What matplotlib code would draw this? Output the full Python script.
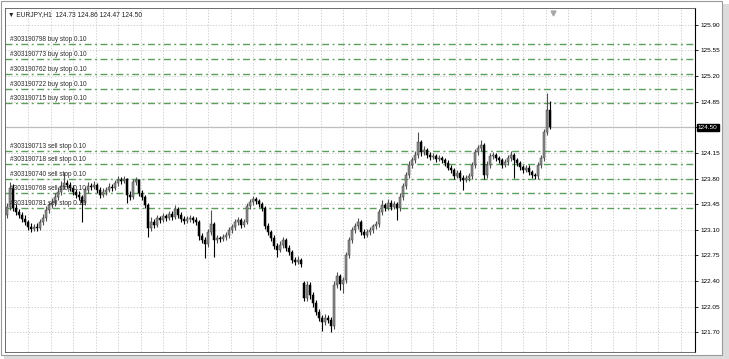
import numpy as np
import matplotlib.pyplot as plt
from matplotlib.patches import Rectangle

plt.rcParams['font.family'] = ['Liberation Sans', 'DejaVu Sans']

symbol = "EURJPY,H1"

# hourly bars
opens = [
    123.30, 123.41, 123.67, 123.40, 123.34, 123.30, 123.25, 123.21, 123.14, 123.11,
    123.14, 123.13, 123.21, 123.26, 123.37, 123.44, 123.47, 123.55, 123.62, 123.70,
    123.74, 123.71, 123.67, 123.62, 123.58, 123.55, 123.47, 123.64, 123.70, 123.69,
    123.71, 123.64, 123.58, 123.62, 123.64, 123.69, 123.67, 123.74, 123.78, 123.77,
    123.79, 123.58, 123.55, 123.75, 123.78, 123.60, 123.55, 123.44, 123.13, 123.21,
    123.17, 123.26, 123.23, 123.29, 123.26, 123.32, 123.28, 123.39, 123.30, 123.25,
    123.22, 123.25, 123.26, 123.23, 123.21, 123.02, 122.96, 122.91, 123.07, 123.18,
    122.96, 122.99, 122.97, 123.00, 123.03, 123.10, 123.14, 123.21, 123.23, 123.17,
    123.21, 123.43, 123.48, 123.52, 123.49, 123.45, 123.40, 123.15, 123.07, 122.99,
    122.88, 122.82, 122.89, 122.96, 122.85, 122.79, 122.69, 122.66, 122.69, 122.37,
    122.17, 122.35, 122.21, 122.10, 121.98, 121.89, 121.84, 121.89, 121.87, 121.79,
    122.35, 122.47, 122.36, 122.41, 122.76, 122.96, 123.10, 123.15, 123.21, 123.07,
    123.03, 123.07, 123.10, 123.15, 123.18, 123.34, 123.44, 123.40, 123.47, 123.41,
    123.45, 123.40, 123.55, 123.70, 123.85, 123.99, 124.05, 124.12, 124.30, 124.16,
    124.19, 124.12, 124.10, 124.11, 124.07, 124.08, 124.05, 124.01, 123.95, 123.92,
    123.84, 123.88, 123.81, 123.78, 123.81, 123.84, 123.99, 124.16, 124.22, 124.26,
    123.85, 123.99, 124.11, 124.12, 124.08, 124.05, 123.99, 124.03, 124.08, 124.12,
    124.05, 124.01, 123.96, 123.92, 123.95, 123.89, 123.85, 123.84, 123.99, 124.08,
    124.44, 124.73,
]
highs = [
    123.47, 123.75, 123.72, 123.45, 123.39, 123.34, 123.30, 123.24, 123.19, 123.18,
    123.19, 123.25, 123.31, 123.42, 123.48, 123.53, 123.60, 123.68, 123.76, 123.89,
    123.78, 123.75, 123.71, 123.66, 123.63, 123.58, 123.69, 123.75, 123.74, 123.76,
    123.74, 123.68, 123.67, 123.69, 123.74, 123.72, 123.78, 123.83, 123.82, 123.84,
    123.81, 123.63, 123.79, 123.82, 123.80, 123.64, 123.58, 123.47, 123.27, 123.25,
    123.30, 123.29, 123.33, 123.32, 123.36, 123.35, 123.44, 123.41, 123.34, 123.29,
    123.29, 123.30, 123.29, 123.27, 123.24, 123.06, 123.00, 123.11, 123.37, 123.21,
    123.03, 123.02, 123.04, 123.07, 123.14, 123.18, 123.25, 123.27, 123.26, 123.25,
    123.47, 123.52, 123.56, 123.55, 123.52, 123.48, 123.43, 123.19, 123.10, 123.03,
    122.92, 122.94, 123.00, 122.99, 122.89, 122.82, 122.73, 122.74, 122.72, 122.40,
    122.40, 122.38, 122.25, 122.14, 122.02, 121.93, 121.95, 121.93, 121.91, 122.40,
    122.52, 122.50, 122.46, 122.80, 123.00, 123.14, 123.19, 123.26, 123.24, 123.11,
    123.11, 123.14, 123.18, 123.22, 123.38, 123.50, 123.47, 123.52, 123.50, 123.49,
    123.48, 123.60, 123.74, 123.89, 124.04, 124.10, 124.17, 124.44, 124.33, 124.24,
    124.22, 124.16, 124.15, 124.14, 124.12, 124.11, 124.08, 124.05, 123.98, 123.95,
    123.92, 123.91, 123.85, 123.85, 123.88, 124.03, 124.20, 124.26, 124.33, 124.28,
    124.04, 124.15, 124.16, 124.15, 124.11, 124.08, 124.07, 124.12, 124.17, 124.15,
    124.08, 124.04, 123.99, 123.99, 123.98, 123.92, 123.88, 124.03, 124.12, 124.48,
    124.97, 124.86,
]
lows = [
    123.26, 123.37, 123.36, 123.30, 123.26, 123.21, 123.17, 123.10, 123.07, 123.08,
    123.09, 123.10, 123.17, 123.22, 123.33, 123.40, 123.43, 123.51, 123.58, 123.66,
    123.67, 123.63, 123.58, 123.54, 123.51, 123.21, 123.44, 123.60, 123.65, 123.66,
    123.60, 123.54, 123.55, 123.58, 123.61, 123.63, 123.64, 123.70, 123.73, 123.74,
    123.47, 123.50, 123.52, 123.71, 123.56, 123.51, 123.40, 123.00, 123.09, 123.13,
    123.14, 123.19, 123.20, 123.22, 123.23, 123.24, 123.25, 123.26, 123.21, 123.18,
    123.19, 123.21, 123.19, 123.17, 122.96, 122.92, 122.71, 122.87, 123.03, 122.73,
    122.92, 122.93, 122.94, 122.96, 122.99, 123.06, 123.10, 123.17, 123.13, 123.14,
    123.18, 123.39, 123.44, 123.45, 123.41, 123.36, 123.11, 123.03, 122.95, 122.84,
    122.73, 122.79, 122.85, 122.81, 122.75, 122.65, 122.62, 122.63, 122.59, 122.13,
    122.13, 122.16, 122.05, 121.94, 121.85, 121.72, 121.80, 121.82, 121.70, 121.75,
    122.31, 122.28, 122.24, 122.37, 122.72, 122.92, 123.06, 123.11, 123.03, 122.99,
    123.00, 123.03, 123.06, 123.11, 123.14, 123.30, 123.36, 123.37, 123.37, 123.38,
    123.23, 123.36, 123.51, 123.66, 123.81, 123.95, 124.01, 124.08, 124.11, 124.12,
    124.08, 124.06, 124.07, 124.03, 124.04, 124.01, 123.97, 123.91, 123.88, 123.80,
    123.81, 123.77, 123.64, 123.75, 123.77, 123.80, 123.95, 124.12, 124.18, 123.80,
    123.81, 123.95, 124.07, 124.04, 124.01, 123.95, 123.96, 123.99, 124.04, 123.81,
    123.97, 123.92, 123.88, 123.89, 123.85, 123.81, 123.80, 123.80, 123.95, 124.04,
    124.40, 124.47,
]
closes = [
    123.41, 123.67, 123.40, 123.34, 123.30, 123.25, 123.21, 123.14, 123.11, 123.14,
    123.13, 123.21, 123.26, 123.37, 123.44, 123.47, 123.55, 123.62, 123.70, 123.74,
    123.71, 123.67, 123.62, 123.58, 123.55, 123.47, 123.64, 123.70, 123.69, 123.71,
    123.64, 123.58, 123.62, 123.64, 123.69, 123.67, 123.74, 123.78, 123.77, 123.79,
    123.58, 123.55, 123.75, 123.78, 123.60, 123.55, 123.44, 123.13, 123.21, 123.17,
    123.26, 123.23, 123.29, 123.26, 123.32, 123.28, 123.39, 123.30, 123.25, 123.22,
    123.25, 123.26, 123.23, 123.21, 123.02, 122.96, 122.91, 123.07, 123.18, 122.96,
    122.99, 122.97, 123.00, 123.03, 123.10, 123.14, 123.21, 123.23, 123.17, 123.21,
    123.43, 123.48, 123.52, 123.49, 123.45, 123.40, 123.15, 123.07, 122.99, 122.88,
    122.82, 122.89, 122.96, 122.85, 122.79, 122.69, 122.66, 122.69, 122.63, 122.17,
    122.35, 122.21, 122.10, 121.98, 121.89, 121.84, 121.89, 121.87, 121.79, 122.35,
    122.47, 122.36, 122.41, 122.76, 122.96, 123.10, 123.15, 123.21, 123.07, 123.03,
    123.07, 123.10, 123.15, 123.18, 123.34, 123.44, 123.40, 123.47, 123.41, 123.45,
    123.40, 123.55, 123.70, 123.85, 123.99, 124.05, 124.12, 124.30, 124.16, 124.19,
    124.12, 124.10, 124.11, 124.07, 124.08, 124.05, 124.01, 123.95, 123.92, 123.84,
    123.88, 123.81, 123.78, 123.81, 123.84, 123.99, 124.16, 124.22, 124.26, 123.85,
    123.99, 124.11, 124.12, 124.08, 124.05, 123.99, 124.03, 124.08, 124.12, 124.05,
    124.01, 123.96, 123.92, 123.95, 123.89, 123.85, 123.84, 123.99, 124.08, 124.44,
    124.73, 124.50,
]

buy_stop_tickets = ["303190798", "303190773", "303190762", "303190722", "303190715"]
buy_stop_prices = [125.64, 125.44, 125.23, 125.03, 124.83]
sell_stop_tickets = ["303190713", "303190718", "303190740", "303190768", "303190781"]
sell_stop_prices = [124.18, 124.00, 123.79, 123.60, 123.40]
lot_size = 0.10

price_ticks = [121.70, 122.05, 122.40, 122.75, 123.10, 123.45, 123.80,
               124.15, 124.50, 124.85, 125.20, 125.55, 125.90]

W, H = 729, 359
fig = plt.figure(figsize=(W / 100, H / 100), dpi=100)

# window frame with a little shadow (behind the axes)
fig.patches.append(Rectangle((4 / W, 0), 725 / W, 355 / H, transform=fig.transFigure,
                             facecolor='#dcdcdc', edgecolor='none', zorder=-2))
fig.patches.append(Rectangle((1 / W, 4 / H), 721 / W, 354 / H, transform=fig.transFigure,
                             facecolor='white', edgecolor='#9a9a9a', lw=0.8, zorder=-1))

ax = fig.add_axes([5 / W, 7 / H, 690 / W, 344 / H])
ax.set_facecolor('white')

o = np.array(opens)
h = np.array(highs)
l = np.array(lows)
c = np.array(closes)
x = np.arange(len(c))
up = c >= o

ax.vlines(x[up], l[up], h[up], color='#505050', lw=0.8, zorder=3)
ax.vlines(x[~up], l[~up], h[~up], color='black', lw=0.8, zorder=3)
ax.bar(x[up], np.maximum(c - o, 0.006)[up], bottom=o[up], width=0.72,
       color='#8e8e8e', edgecolor='#3c3c3c', lw=0.35, zorder=4)
ax.bar(x[~up], np.maximum(o - c, 0.006)[~up], bottom=c[~up], width=0.72,
       color='black', edgecolor='black', lw=0.35, zorder=4)

# pending orders
yx = ax.get_yaxis_transform()
for kind, tickets, prices in [('buy stop', buy_stop_tickets, buy_stop_prices),
                              ('sell stop', sell_stop_tickets, sell_stop_prices)]:
    for t, p in zip(tickets, prices):
        ax.axhline(p, color='#5c9e5c', lw=1.0, dashes=(5, 2.5, 1.4, 2.5),
                   snap=True, zorder=2)
        ax.text(0.007, p + 0.012, f"#{t} {kind} {lot_size:.2f}", transform=yx,
                fontsize=4.7, color='#2a2a2a', va='bottom', ha='left', zorder=5)

# current price
last = closes[-1]
ax.axhline(last, color='#bdbdbd', lw=0.9, snap=True, zorder=2)
ax.text(1.004, last, f"{last:.2f}", transform=yx, fontsize=4.6, color='white',
        va='center', ha='left', zorder=6,
        bbox=dict(facecolor='black', edgecolor='black', pad=0.8))

ax.set_xlim(-0.67, 229.33)
ax.set_ylim(121.43, 126.13)

ax.yaxis.tick_right()
ax.set_yticks(price_ticks)
ax.set_yticklabels(['' if abs(p - last) < 1e-6 else f"{p:.2f}" for p in price_ticks])
ax.tick_params(axis='y', length=2.5, width=0.6, labelsize=4.6, pad=1.5, colors='black')
ax.set_xticks(np.arange(7.0, 229, 7.5))
ax.tick_params(axis='x', length=0, labelbottom=False)
ax.grid(True, color='#c6c6c6', lw=0.6, linestyle=(0, (1.5, 2)), zorder=0)
ax.set_axisbelow(True)

for side in ['left', 'top', 'bottom']:
    ax.spines[side].set_color('#555555')
    ax.spines[side].set_linewidth(0.6)
ax.spines['right'].set_color('black')
ax.spines['right'].set_linewidth(0.8)

# chart shift marker
ax.plot([len(c)], [0.985], marker='v', color='#a8a8a8', ms=3.5,
        transform=ax.get_xaxis_transform(), clip_on=False, zorder=6)

fig.text(8 / W, 1 - 15 / H,
         f"\u25bc {symbol}  {opens[-1]:.2f} {highs[-1]:.2f} {lows[-1]:.2f} {closes[-1]:.2f}",
         fontsize=4.8, color='#222222', va='center', ha='left')

fig.savefig('out.png', dpi=100)
